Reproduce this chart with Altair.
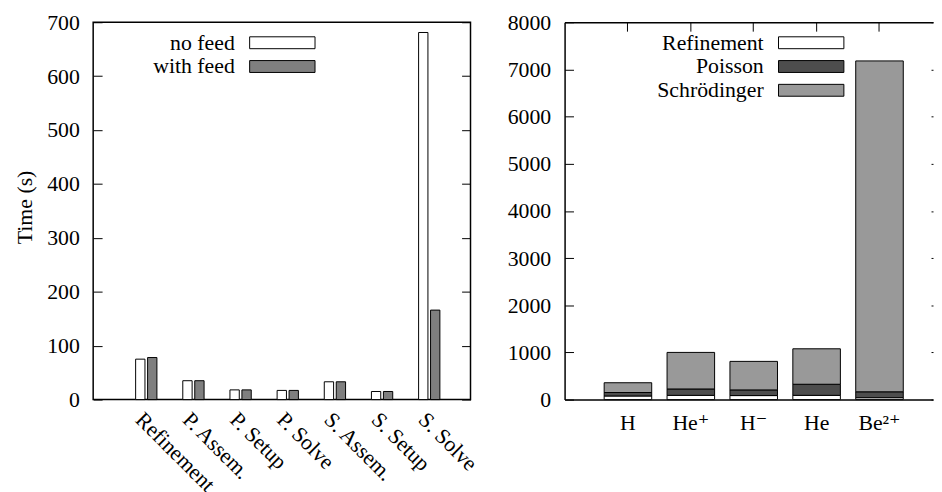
import altair as alt
import pandas as pd

# ---------------- data ----------------
steps = ["Refinement", "P. Assem.", "P. Setup", "P. Solve", "S. Assem.", "S. Setup", "S. Solve"]
no_feed = [75, 35, 18, 17, 33, 15, 681]
with_feed = [78, 35, 18, 17, 33, 15, 166]
feed_series = ["no feed", "with feed"]
feed_colors = ["#ffffff", "#7f7f7f"]
left_ticks = [0, 100, 200, 300, 400, 500, 600, 700]

species = ["H", "He\u207a", "H\u207b", "He", "Be\u00b2\u207a"]
refinement = [76, 90, 85, 90, 40]
poisson = [74, 135, 120, 235, 125]
schrodinger = [207, 775, 605, 752, 7015]
components = ["Refinement", "Poisson", "Schrödinger"]
comp_colors = ["#ffffff", "#4d4d4d", "#999999"]
right_ticks = [0, 1000, 2000, 3000, 4000, 5000, 6000, 7000, 8000]

FONT = "Liberation Serif, DejaVu Serif, serif"
FS = 22

rows = []
for i, s in enumerate(steps):
    rows.append({"step": s, "series": feed_series[0], "time": no_feed[i]})
    rows.append({"step": s, "series": feed_series[1], "time": with_feed[i]})
df_left = pd.DataFrame(rows)

rows = []
for i, sp in enumerate(species):
    for k, (comp, vals) in enumerate(zip(components, [refinement, poisson, schrodinger])):
        rows.append({"species": sp, "component": comp, "time": vals[i], "order": k})
df_right = pd.DataFrame(rows)


def legend(x, y):
    return alt.Legend(
        title=None, orient="none", legendX=x, legendY=y,
        symbolType="M-5.5,-1H5.5V1H-5.5Z", symbolSize=144,
        symbolStrokeColor="black", symbolStrokeWidth=1, symbolOpacity=1,
        labelAlign="right", labelOffset={"expr": "-59"}, labelFontSize=FS, labelFont=FONT,
        labelColor="black", rowPadding=2, padding=0,
    )


def left_axis(vals, title=None):
    kw = dict(orient="left", values=vals, format="d", domain=False, ticks=True, tickSize=9,
              offset=-9, labelPadding=14, grid=False, tickColor="black")
    if title:
        kw["title"] = title
        kw["titlePadding"] = 10
        kw["titleY"] = 186.5
    else:
        kw["title"] = None
    return alt.Axis(**kw)


def right_axis(vals, size=9):
    return alt.Axis(orient="right", values=vals, domain=False, labels=False, ticks=True,
                    tickSize=size, offset=-size, grid=False, title=None, tickColor="black")


# ---------------- left panel ----------------
bars_left = alt.Chart(df_left).mark_bar(stroke="black", strokeWidth=1).encode(
    x=alt.X("step:N", sort=steps, title=None,
            scale=alt.Scale(paddingInner=0.5485, paddingOuter=0.7747, align=0.581),
            axis=alt.Axis(labelAngle=45, labelAlign="left", labelBaseline="top", ticks=False,
                          tickSize=0, domain=False, labelPadding=9)),
    xOffset=alt.XOffset("series:N", sort=feed_series,
                        scale=alt.Scale(paddingInner=0.22, paddingOuter=0)),
    y=alt.Y("time:Q", scale=alt.Scale(domain=[0, 700], nice=False),
            axis=left_axis(left_ticks, "Time (s)")),
    color=alt.Color("series:N", scale=alt.Scale(domain=feed_series, range=feed_colors),
                    legend=legend(180, 9.7)),
)
mirror_left = alt.Chart(df_left).mark_point(opacity=0).encode(
    y=alt.Y("time:Q", axis=right_axis(left_ticks)),
)
left = alt.layer(bars_left, mirror_left).properties(width=381, height=381)

# ---------------- right panel (its right edge is cut by the picture) ----------------
bars_right = alt.Chart(df_right).mark_bar(stroke="black", strokeWidth=1).encode(
    x=alt.X("species:N", sort=species, title=None,
            scale=alt.Scale(paddingInner=0.244, paddingOuter=0.551, align=0.571),
            axis=alt.Axis(orient="bottom", labelAngle=0, ticks=False, tickSize=0, domain=True,
                          domainColor="black", domainWidth=1.5, labelPadding=13)),
    y=alt.Y("time:Q", stack="zero", scale=alt.Scale(domain=[0, 8000], nice=False),
            axis=left_axis(right_ticks)),
    color=alt.Color("component:N", scale=alt.Scale(domain=components, range=comp_colors),
                    legend=legend(238, 9.7)),
    order=alt.Order("order:Q"),
)
mirror_right = alt.Chart(df_right).mark_point(opacity=0).encode(
    x=alt.X("species:N", sort=species,
            axis=alt.Axis(orient="top", labels=False, ticks=True, tickSize=9, offset=-9,
                          domain=False, title=None, tickColor="black")),
    y=alt.Y("time:Q", axis=right_axis(right_ticks, 2)),
)
frame_right = alt.Chart(df_right).mark_point(opacity=0).encode(
    x=alt.X("species:N", sort=species,
            axis=alt.Axis(orient="top", labels=False, ticks=False, domain=True,
                          domainColor="black", domainWidth=1.5, title=None)),
    y=alt.Y("time:Q", axis=alt.Axis(orient="left", labels=False, ticks=False, domain=True,
                                    domainColor="black", domainWidth=1.5, title=None,
                                    grid=False)),
)
right = alt.layer(bars_right, mirror_right, frame_right).resolve_axis(
    x="independent", y="independent"
).properties(width=372, height=381, view=alt.ViewBackground(stroke=None))

chart = alt.hconcat(
    left, right, spacing=95, bounds="flush",
    padding={"left": 5, "top": 0, "right": 0, "bottom": 0},
).resolve_scale(color="independent").configure(
    font=FONT,
).configure_view(
    stroke="black", strokeWidth=1.5,
).configure_axis(
    labelFont=FONT, labelFontSize=FS, labelColor="black",
    titleFont=FONT, titleFontSize=FS, titleFontWeight="normal", titleColor="black",
    tickColor="black", grid=False,
)

chart.save("out.html", embed_options={"renderer": "svg", "actions": False})
